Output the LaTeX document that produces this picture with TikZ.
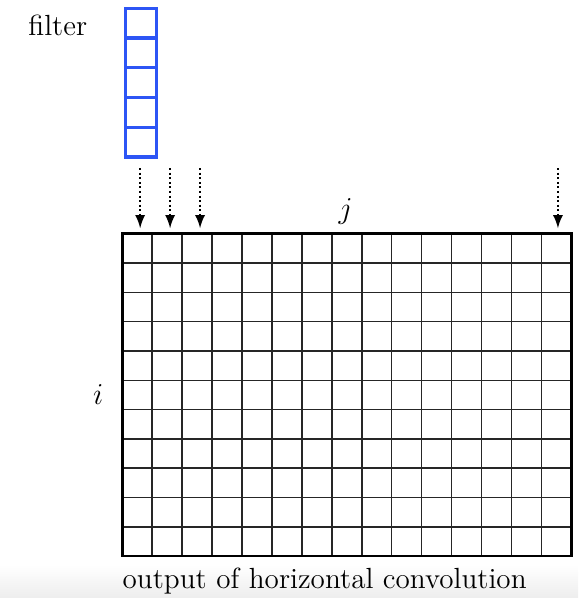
\documentclass[tikz,border=0pt]{standalone}
\usepackage{tikz}
\definecolor{filterblue}{RGB}{45,85,245}
\usetikzlibrary{arrows, shadings}

\begin{document}
\begin{tikzpicture}[cell/.style={draw=filterblue, line width=1.3pt, minimum width=0.415cm*1.04, minimum height=0.406cm*1.016, inner sep=0pt, outer sep=0pt}, x=0.415cm, y=0.406cm,
        >=latex,   %arrow tips
        font=\fontsize{11.5}{14}\selectfont]
        %bounding box
        \useasboundingbox (-4.08,-1.43) rectangle (15.22,18.98);
        %grey band at the bottom
        \shade[top color=white, bottom color=black!7] (-4.08,-0.3) rectangle (15.22,-1.43);
        %grid
        \foreach \x in {1,...,14} \draw[line width=0.6pt, color=black!85] (\x,0) -- (\x,11);
        \foreach \y in {1,...,10} \draw[line width=0.6pt, color=black!85] (0,\y) -- (15,\y);
        \draw[line width=1.1pt] (0,0) rectangle (15,11);
        %filter
        \foreach \k in {1,...,5}
          \node[cell] (f\k) at (0.62,{13.62+1.016*(\k-0.5)}) {};
        \node (filterlabel) at (-2.15,18.1) {filter};
        %arrows
        \foreach \c/\x in {a1/0.6, a2/1.6, a3/2.6, a4/14.55} {
          \coordinate (\c top) at (\x,13.24);
          \coordinate (\c bot) at (\x,11.19);
          \draw[->, densely dotted, thick] (\c top) -- (\c bot);
        }
        %labels
        \node (jlabel) at (7.46,11.75) {$j$};
        \node (ilabel) at (-0.8,5.5) {$i$};
        \node[anchor=north west, inner sep=0pt] (caption) at (0,-0.4) {output of horizontal convolution};
\end{tikzpicture}
\end{document}
